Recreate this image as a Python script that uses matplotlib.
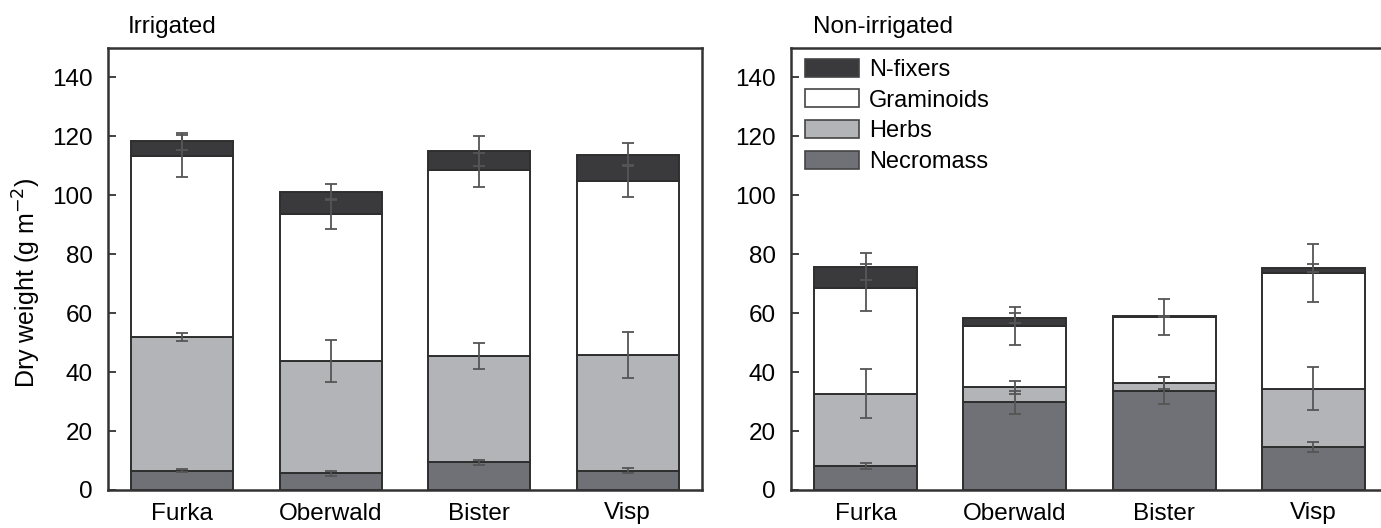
import matplotlib
matplotlib.use("Agg")
import matplotlib.pyplot as plt
import numpy as np
from matplotlib.patches import Patch

plt.rcParams["font.family"] = ["Liberation Sans", "DejaVu Sans"]

SITES = ["Furka", "Oberwald", "Bister", "Visp"]
GROUPS = ["Necromass", "Herbs", "Graminoids", "N-fixers"]

# segment heights (g m-2), bottom to top
IRR_NECRO = [6.6, 5.7, 9.4, 6.6]
IRR_HERBS = [45.4, 38.1, 36.2, 39.3]
IRR_GRAM = [61.4, 49.8, 63.0, 58.9]
IRR_NFIX = [4.9, 7.5, 6.5, 9.0]

IRR_NECRO_ERR = [0.6, 0.8, 0.8, 0.8]
IRR_HERBS_ERR = [1.3, 7.1, 4.4, 7.8]
IRR_GRAM_ERR = [7.2, 5.0, 5.8, 5.5]
IRR_NFIX_ERR = [2.9, 2.8, 5.1, 4.0]

NON_NECRO = [8.2, 29.7, 33.7, 14.5]
NON_HERBS = [24.4, 5.1, 2.5, 19.8]
NON_GRAM = [36.0, 20.9, 22.5, 39.4]
NON_NFIX = [7.2, 2.7, 0.2, 1.7]

NON_NECRO_ERR = [1.1, 3.9, 4.5, 1.7]
NON_HERBS_ERR = [8.3, 2.2, 2.0, 7.3]
NON_GRAM_ERR = [8.0, 6.5, 6.2, 9.8]
NON_NFIX_ERR = [4.5, 1.8, 0.2, 1.4]

COLORS = {"Necromass": "#707176", "Herbs": "#b3b4b8", "Graminoids": "#ffffff", "N-fixers": "#3a3a3c"}
EDGE = "#2e2e2e"
ERRC = "#555555"

W, H = 1381, 528


def draw_panel(ax, segs, errs):
    x = np.arange(len(SITES))
    bottom = np.zeros(len(SITES))
    for name, vals, err in zip(GROUPS, segs, errs):
        vals = np.array(vals)
        ax.bar(x, vals, 0.69, bottom=bottom, color=COLORS[name], edgecolor=EDGE, linewidth=1.4, zorder=2)
        top = bottom + vals
        ax.errorbar(x, top, yerr=err, fmt="none", ecolor=ERRC, elinewidth=1.3, capsize=4.5, capthick=1.3, zorder=3)
        bottom = top
    ax.set_xlim(-0.5, 3.5)
    ax.set_ylim(0, 150)
    ax.set_yticks(range(0, 141, 20))
    ax.set_xticks(x)
    ax.set_xticklabels(SITES)
    ax.tick_params(axis="y", direction="in", length=6, width=1.3, labelsize=17.5, pad=11, color="#333333")
    ax.tick_params(axis="x", length=0, labelsize=17.5, pad=9)
    for sp in ax.spines.values():
        sp.set_linewidth(1.8)
        sp.set_color("#333333")


fig = plt.figure(figsize=(W / 100, H / 100), dpi=100)
ax1 = fig.add_axes([108 / W, 1 - 490 / H, (702 - 108) / W, 442 / H])
ax2 = fig.add_axes([791 / W, 1 - 490 / H, (1388 - 791) / W, 442 / H])

draw_panel(ax1, [IRR_NECRO, IRR_HERBS, IRR_GRAM, IRR_NFIX],
           [IRR_NECRO_ERR, IRR_HERBS_ERR, IRR_GRAM_ERR, IRR_NFIX_ERR])
draw_panel(ax2, [NON_NECRO, NON_HERBS, NON_GRAM, NON_NFIX],
           [NON_NECRO_ERR, NON_HERBS_ERR, NON_GRAM_ERR, NON_NFIX_ERR])

ax1.set_ylabel("Dry weight (g m$^{-2}$)", fontsize=18)
ax1.yaxis.set_label_coords(-0.11, 0.47)

fig.text(128 / W, 1 - 27 / H, "Irrigated", fontsize=17.5, va="center", ha="left")
fig.text(813 / W, 1 - 27 / H, "Non-irrigated", fontsize=17.5, va="center", ha="left")

handles = [Patch(facecolor=COLORS[g], edgecolor="#444444", linewidth=1.2) for g in GROUPS[::-1]]
ax2.legend(handles, GROUPS[::-1], loc="upper left", bbox_to_anchor=(0.0235, 0.976),
           frameon=False, fontsize=17, handlelength=2.3, handleheight=0.8,
           labelspacing=0.36, handletextpad=0.4, borderpad=0, borderaxespad=0)

fig.savefig("out.png", dpi=100)
